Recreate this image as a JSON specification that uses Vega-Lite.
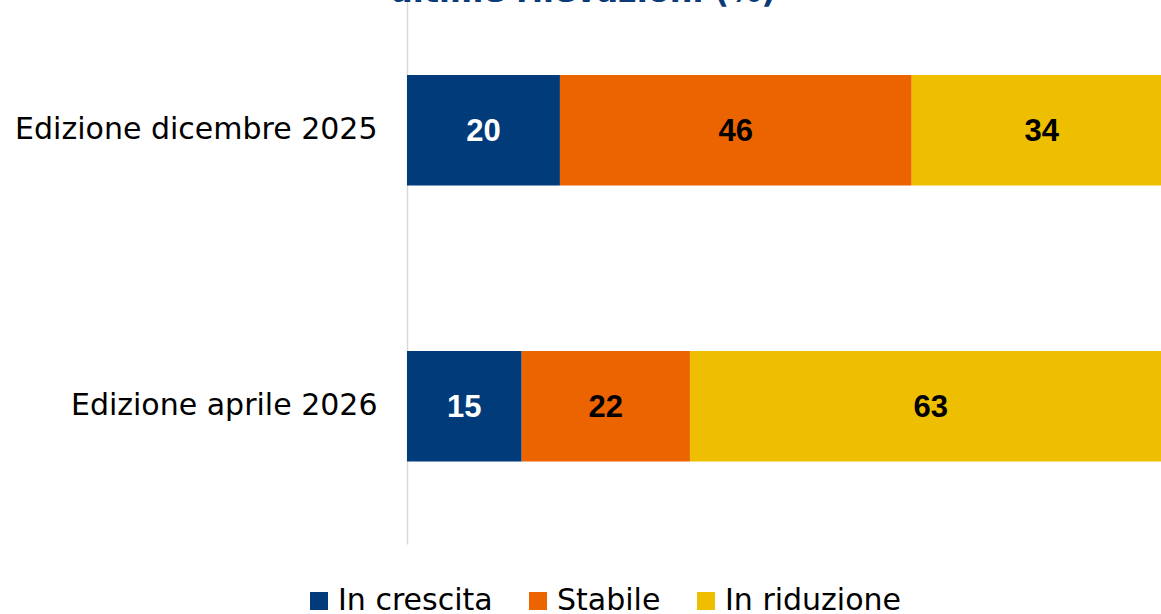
{
  "$schema": "https://vega.github.io/schema/vega-lite/v6.json",
  "autosize": {"type": "none"},
  "padding": {"left": 407, "top": 0, "right": 0, "bottom": 70},
  "width": 754,
  "height": 544,
  "background": "white",
  "title": {
    "text": "ultime rilevazioni (%)",
    "font": "DejaVu Sans",
    "fontSize": 32,
    "fontWeight": "bold",
    "color": "#0A3A78",
    "anchor": "start",
    "frame": "group",
    "dx": -17,
    "offset": -9
  },
  "data": {
    "values": [
      {"ed": "Edizione dicembre 2025", "s": "In crescita", "k": 1, "v": 20},
      {"ed": "Edizione dicembre 2025", "s": "Stabile", "k": 2, "v": 46},
      {"ed": "Edizione dicembre 2025", "s": "In riduzione", "k": 3, "v": 34},
      {"ed": "Edizione aprile 2026", "s": "In crescita", "k": 1, "v": 15},
      {"ed": "Edizione aprile 2026", "s": "Stabile", "k": 2, "v": 22},
      {"ed": "Edizione aprile 2026", "s": "In riduzione", "k": 3, "v": 63}
    ]
  },
  "encoding": {
    "y": {
      "field": "ed",
      "type": "nominal",
      "sort": ["Edizione dicembre 2025", "Edizione aprile 2026"],
      "scale": {"paddingInner": 0.6, "paddingOuter": 0.2855, "align": 0.476},
      "axis": {
        "title": null,
        "ticks": false,
        "grid": false,
        "labelPadding": 30,
        "labelLimit": 600,
        "labelFont": "DejaVu Sans",
        "labelFontSize": 30,
        "labelColor": "#000000",
        "domainColor": "#d9d9d9",
        "domainWidth": 1.5
      }
    }
  },
  "layer": [
    {
      "mark": {"type": "bar", "clip": true},
      "encoding": {
        "x": {
          "field": "v",
          "type": "quantitative",
          "stack": "zero",
          "scale": {"domain": [0, 98.6], "nice": false, "zero": true},
          "axis": null
        },
        "order": {"field": "k", "type": "quantitative"},
        "color": {
          "field": "s",
          "type": "nominal",
          "sort": ["In crescita", "Stabile", "In riduzione"],
          "scale": {
            "domain": ["In crescita", "Stabile", "In riduzione"],
            "range": ["#023B7A", "#EC6400", "#EEBE00"]
          },
          "legend": {
            "title": null,
            "orient": "none",
            "direction": "horizontal",
            "legendX": -103,
            "legendY": 586,
            "padding": 0,
            "symbolType": "square",
            "symbolSize": 324,
            "symbolStrokeWidth": 0,
            "symbolOpacity": 1,
            "labelFont": "DejaVu Sans",
            "labelFontSize": 30,
            "labelColor": "#000000",
            "labelOffset": 4,
            "columnPadding": 30,
            "labelLimit": 400
          }
        }
      }
    },
    {
      "mark": {"type": "text", "font": "Liberation Sans", "fontWeight": "bold", "fontSize": 31, "baseline": "middle", "align": "center", "dy": 2},
      "encoding": {
        "x": {"field": "v", "type": "quantitative", "stack": "zero", "bandPosition": 0.5},
        "order": {"field": "k", "type": "quantitative"},
        "text": {"field": "v", "type": "quantitative"},
        "color": {"condition": {"test": "datum.k == 1", "value": "#ffffff"}, "value": "#000000"}
      }
    }
  ],
  "config": {"view": {"stroke": null}}
}
